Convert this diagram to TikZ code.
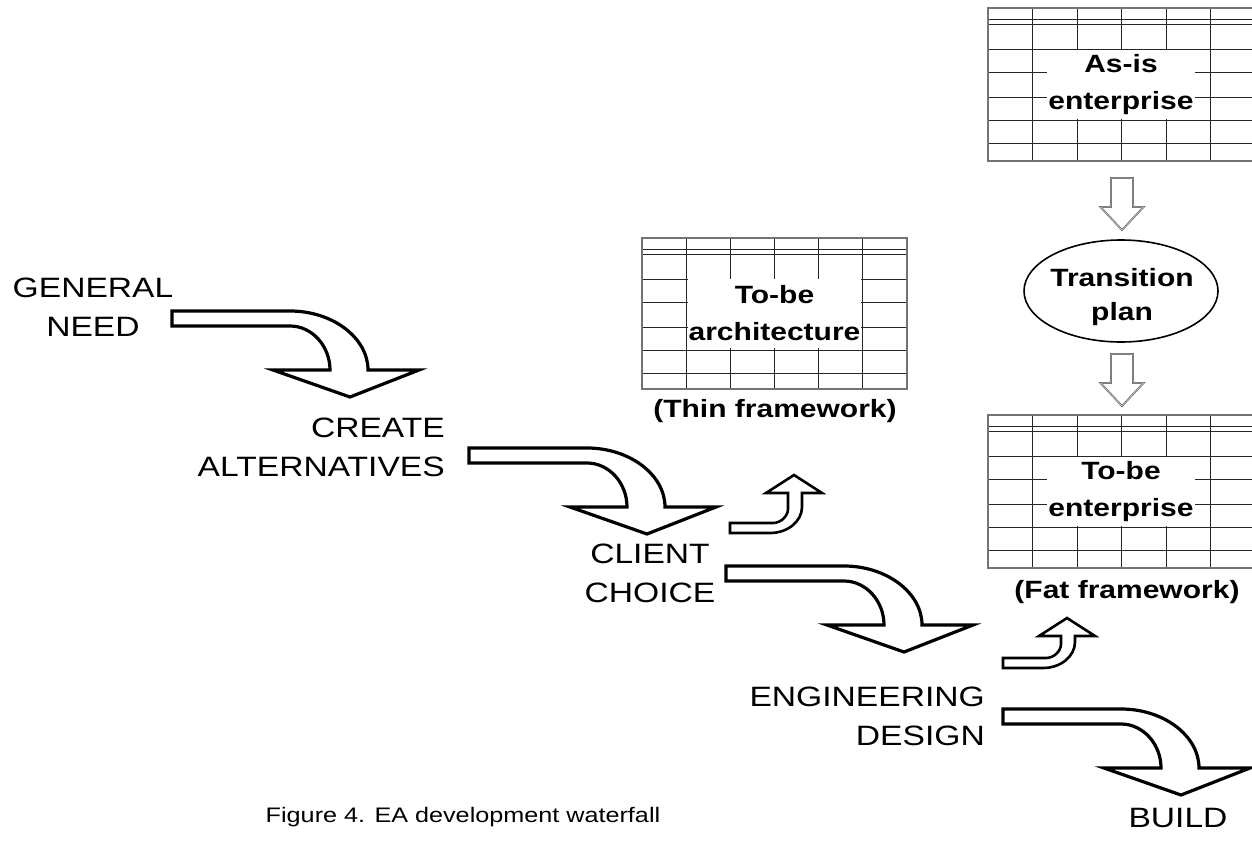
\documentclass[tikz,border=0pt]{standalone}
\usepackage{fontspec}
\setmainfont{Liberation Sans}[FakeStretch=1.2]
\usetikzlibrary{shapes.geometric}

\newcommand{\steptext}{\fontsize{28}{39}\selectfont}
\newcommand{\boxtext}{\fontsize{25}{37}\selectfont\bfseries}
\newcommand{\plantext}{\fontsize{25}{34}\selectfont\bfseries}
\newcommand{\captext}{\fontsize{21}{25}\selectfont}

\tikzset{
  gridline/.style={draw=black!85, line width=0.9pt},
  gridframe/.style={draw=black!55, line width=1.1pt},
  % wide curved block arrow turning downwards
  pics/bigbend/.style={code={
    \draw[line width=3.2pt, fill=white]
      (0,0) -- (118,0) .. controls (161,0) and (196,27) .. (196,59)
      -- (247,59) -- (178,86) -- (101,59) -- (158,59)
      .. controls (158,35) and (140,15) .. (118,15) -- (0,15) -- cycle;
  }},
  % small curved block arrow turning upwards, #1 = height of the head base
  pics/smallbend/.style={code={
    \draw[line width=2.6pt, fill=white]
      (0,0) -- (40,0) .. controls (58,0) and (72,-12) .. (72,-26)
      -- (72,-#1) -- (92,-#1) -- (64,-#1-18) -- (36,-#1) -- (58,-#1)
      -- (58,-24) .. controls (58,-17) and (51,-10) .. (43,-10)
      -- (0,-10) -- cycle;
  }},
  % thin hollow arrow pointing down
  pics/downhollow/.style={code={
    \draw[draw=black!65, double=black!22, double distance=0.7pt, line width=0.55pt]
      (-11,0) -- (11,0) -- (11,29) -- (21.5,29) -- (0,52)
      -- (-21.5,29) -- (-11,29) -- cycle;
  }},
  % framework table: #1 = column width, #2 = height
  pics/sheet/.style n args={2}{code={
    \foreach \r in {11,16,41,64,89,112,135}
      \draw[gridline] (0,\r) -- (6*#1,\r);
    \foreach \c in {1,...,5}
      \draw[gridline] (\c*#1,0) -- (\c*#1,#2);
    \draw[gridframe] (0,0) rectangle (6*#1,#2);
  }},
  sheetlabel/.style={fill=white, inner xsep=1pt, inner ysep=0pt,
    minimum height=69pt, align=center, font=\boxtext},
  steplabel/.style={inner sep=0pt, font=\steptext},
  boldlabel/.style={inner sep=0pt, font=\boxtext, align=center}
}

\begin{document}
\begin{tikzpicture}[x=1pt, y=-1pt]
\useasboundingbox (0,0) rectangle (1252,848);

% framework tables
\pic (asis) at (988,8) {sheet={44.5}{153}};
\node[sheetlabel] (asislab) at (1121,84.5) {As-is\\enterprise};

\pic (arch) at (642,238) {sheet={44.17}{151}};
\node[sheetlabel] (archlab) at (774.5,313.5) {To-be\\architecture};

\pic (ent) at (988,415) {sheet={44.5}{153}};
\node[sheetlabel] (entlab) at (1121,491.5) {To-be\\enterprise};

% transition plan between the as-is and to-be enterprise
\pic (d1) at (1122,178) {downhollow};
\node[draw, ellipse, line width=1.6pt, minimum width=194pt, minimum height=102pt,
      inner sep=0pt] (plan) at (1121,291) {};
\node[inner sep=0pt, font=\plantext, align=center] (plantext) at (1122,297) {Transition\\plan};
\pic (d2) at (1122,354) {downhollow};

\node[boldlabel] (thin) at (775,411) {(Thin framework)};
\node[boldlabel] (fat) at (1127,592) {(Fat framework)};

% waterfall steps
\node[steplabel, align=center] (need) at (93,307) {GENERAL\\NEED};
\node[steplabel, align=right, anchor=east] (create) at (445,447) {CREATE\\ALTERNATIVES};
\node[steplabel, align=center] (choice) at (650,573) {CLIENT\\CHOICE};
\node[steplabel, align=right, anchor=east] (design) at (985,716) {ENGINEERING\\DESIGN};
\node[steplabel] (build) at (1178,818) {BUILD};

\pic (a1) at (172,311) {bigbend};
\pic (a2) at (469,448) {bigbend};
\pic (a3) at (726,566) {bigbend};
\pic (a4) at (1003,709) {bigbend};

\pic (s1) at (730,533) {smallbend=40};
\pic (s2) at (1003,668) {smallbend=32};

\node[inner sep=0pt, font=\captext] (caption) at (463,817) {Figure 4. EA development waterfall};
\end{tikzpicture}
\end{document}
